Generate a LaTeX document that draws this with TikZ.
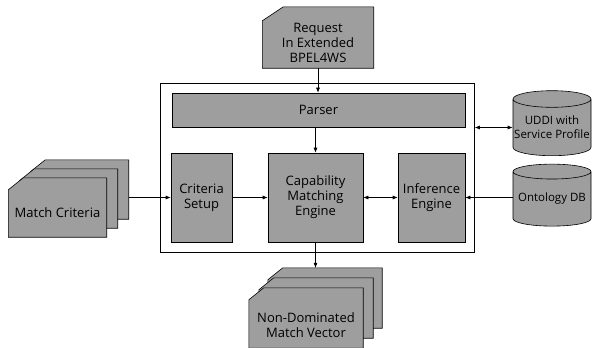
\documentclass[tikz,border=0pt]{standalone}
\usepackage{fontspec}
\setmainfont{Open Sans}
\usetikzlibrary{arrows.meta,shapes.geometric}

\definecolor{scan}{gray}{0.62}
\tikzset{
	box/.style={draw, fill=scan, line width=0.6pt, align=center, inner sep=0pt},
	page/.style={draw, fill=scan, line width=0.6pt},
	sheet/.style={inner sep=0pt, minimum width=#1},
	label/.style={align=center, inner sep=0pt},
	db/.style={draw, fill=scan, line width=0.6pt, cylinder, shape border rotate=90, aspect=0.22, align=center, inner sep=0pt, font=\fontsize{11.5}{14}\selectfont},
	link/.style={line width=0.6pt, -{Latex[length=5pt,width=4pt]}},
	both/.style={line width=0.6pt, {Latex[length=5pt,width=4pt]}-{Latex[length=5pt,width=4pt]}}
}
% sheet of paper with the top left corner cut off
\newcommand{\pageshape}[3]{\filldraw[page] ([yshift=-#3pt]#1.north west) -- ([xshift=#2pt]#1.north west) -- (#1.north east) -- (#1.south east) -- (#1.south west) -- cycle;}

\begin{document}
\begin{tikzpicture}[x=1pt,y=-1pt,font=\fontsize{13}{15}\selectfont]
		\useasboundingbox (0,0) rectangle (592,348);
		\clip (0,0) rectangle (592,348);

		\node[draw, line width=0.6pt, minimum width=314pt, minimum height=169pt] (sys) at (317.5,168) {};

		\node[sheet=111pt, minimum height=61pt] (req) at (318,37.5) {};
		\pageshape{req}{21}{14}
		\node[label] (reqtext) at ([yshift=-5pt]req.center) {Request\\In Extended\\BPEL4WS};

		\node[box, minimum width=293pt, minimum height=34pt] (parser) at (318.5,110) {Parser};
		\node[box, minimum width=61pt, minimum height=89pt] (cs) at (201.5,197.5) {Criteria\\Setup};
		\node[box, minimum width=95pt, minimum height=89pt] (cme) at (315.5,197.5) {Capability\\Matching\\Engine};
		\node[box, minimum width=67pt, minimum height=89pt] (inf) at (431.5,197.5) {Inference\\Engine};

		\node[db, minimum width=78pt, minimum height=65pt] (uddi) at (552,127.5) {UDDI with\\Service Profile};
		\node[db, minimum width=78pt, minimum height=62pt] (odb) at (552,199) {Ontology DB};

		\node[sheet=98pt, minimum height=59pt] (mcb) at (79.5,189.5) {};
		\pageshape{mcb}{15}{12}
		\node[sheet=98pt, minimum height=59pt] (mcm) at (68.5,198.5) {};
		\pageshape{mcm}{15}{12}
		\node[sheet=98pt, minimum height=59pt] (mc) at (57.5,207.5) {};
		\pageshape{mc}{15}{12}
		\node[label] (mctext) at ([yshift=-5pt]mc.center) {Match Criteria};

		\node[sheet=114pt, minimum height=60pt] (ndb) at (325,298) {};
		\pageshape{ndb}{15}{12}
		\node[sheet=114pt, minimum height=60pt] (ndm) at (316,308) {};
		\pageshape{ndm}{15}{12}
		\node[sheet=114pt, minimum height=60pt] (nd) at (306,318) {};
		\pageshape{nd}{15}{12}
		\node[label] (ndtext) at ([yshift=-7pt]nd.center) {Non-Dominated\\Match Vector};

		\draw[link] (req.south) -- (req.south |- parser.north);
		\draw[link] (cme.north |- parser.south) -- (cme.north);
		\draw[link] (mcb.east |- cs.west) -- (cs.west);
		\draw[link] (cs.east) -- (cme.west);
		\draw[both] (cme.east) -- (inf.west);
		\draw[link] (odb.west |- inf.east) -- (inf.east);
		\draw[both] (sys.east |- uddi.west) -- (uddi.west);
		\draw[link] (cme.south) -- (cme.south |- ndb.north);
	\end{tikzpicture}
\end{document}
